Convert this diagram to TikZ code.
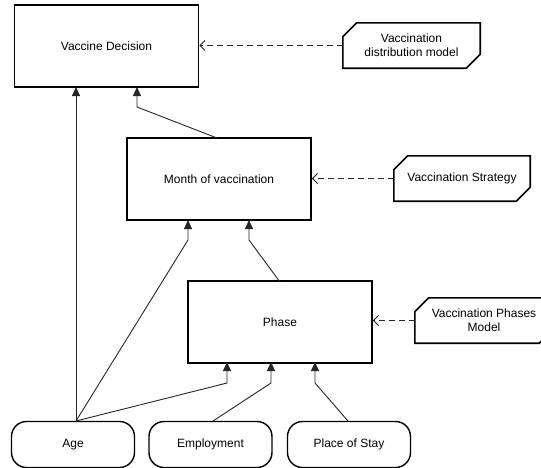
\documentclass[tikz,border=0pt]{standalone}
\usepackage{fontspec}
\setmainfont{Liberation Sans}
\usetikzlibrary{arrows.meta,calc}

\tikzset{
  stepbox/.style={draw=black, line width=1.6pt, rectangle, minimum width=184pt, minimum height=82pt, inner sep=0pt, font=\fontsize{12}{14.4}\selectfont},
  tagtext/.style={rectangle, inner sep=0pt, align=center, font=\fontsize{12}{14.4}\selectfont},
  tagline/.style={draw=black, line width=1.6pt, line join=miter},
  inputbox/.style={draw=black, line width=1.4pt, rectangle, rounded corners=15pt, minimum width=123pt, minimum height=46pt, inner sep=0pt, font=\fontsize{12}{14.4}\selectfont},
  link/.style={draw=black!85, line width=0.9pt, -{Triangle[width=8pt,length=9pt]}},
  model/.style={draw=black!85, line width=1pt, dash pattern=on 6pt off 4pt, -{Straight Barb[length=5pt,width=10pt]}}
}

% chamfered tag outline around a node: cuts at top-left and bottom-right
\newcommand{\tagoutline}[1]{%
  \draw[tagline] ($(#1.north west)+(14,0)$) -- (#1.north east) -- ($(#1.south east)+(0,-14)$)
    -- ($(#1.south east)+(-14,0)$) -- (#1.south west) -- ($(#1.north west)+(0,14)$) -- cycle;}

\begin{document}
\begin{tikzpicture}[x=1pt,y=-1pt]
\useasboundingbox (0,0) rectangle (541,467);
\clip (0,0) rectangle (541,467);
\fill[white] (0,0) rectangle (541,467);

% decision chain
\node[stepbox] (vd) at (106.5,46) {Vaccine Decision};
\node[stepbox] (month) at (219,179) {Month of vaccination};
\node[stepbox] (phase) at (280,322) {Phase};

% models
\node[tagtext, minimum width=137pt, minimum height=45pt] (vdm) at (411.5,45.5) {Vaccination\\distribution model};
\tagoutline{vdm}
\node[tagtext, minimum width=136pt, minimum height=45pt] (vs) at (462,178.5) {Vaccination Strategy};
\tagoutline{vs}
\node[tagtext, minimum width=138pt, minimum height=45pt] (vpm) at (484,320.5) {Vaccination Phases\\Model};
\tagoutline{vpm}

% inputs
\node[inputbox] (age) at (73,444.5) {Age};
\node[inputbox] (emp) at (210.5,444.5) {Employment};
\node[inputbox] (stay) at (349,444.5) {Place of Stay};

% bend points
\coordinate (ageTop) at (76,421);
\coordinate (vdIn1) at (76,87);
\coordinate (vdBend) at (137,107);
\coordinate (vdIn2) at (137,87);
\coordinate (monthTop) at (217,138);
\coordinate (mBend1) at (188,240);
\coordinate (mIn1) at (188,220);
\coordinate (phaseTop) at (280,282);
\coordinate (mBend2) at (249,240);
\coordinate (mIn2) at (249,220);
\coordinate (pBend1) at (227,383);
\coordinate (pIn1) at (227,362);
\coordinate (empTop) at (213,421);
\coordinate (pBend2) at (271,383);
\coordinate (pIn2) at (271,362);
\coordinate (stayTop) at (348,421);
\coordinate (pBend3) at (315,383);
\coordinate (pIn3) at (315,362);

% influences
\draw[link] (ageTop) -- (vdIn1);
\draw[link] (monthTop) -- (vdBend) -- (vdIn2);
\draw[link] (ageTop) -- (mBend1) -- (mIn1);
\draw[link] (phaseTop) -- (mBend2) -- (mIn2);
\draw[link] (ageTop) -- (pBend1) -- (pIn1);
\draw[link] (empTop) -- (pBend2) -- (pIn2);
\draw[link] (stayTop) -- (pBend3) -- (pIn3);

% model references
\draw[model] (vdm.west) -- (vd.east |- vdm.west);
\draw[model] (vs.west) -- (month.east |- vs.west);
\draw[model] (vpm.west) -- (phase.east |- vpm.west);
\end{tikzpicture}
\end{document}
